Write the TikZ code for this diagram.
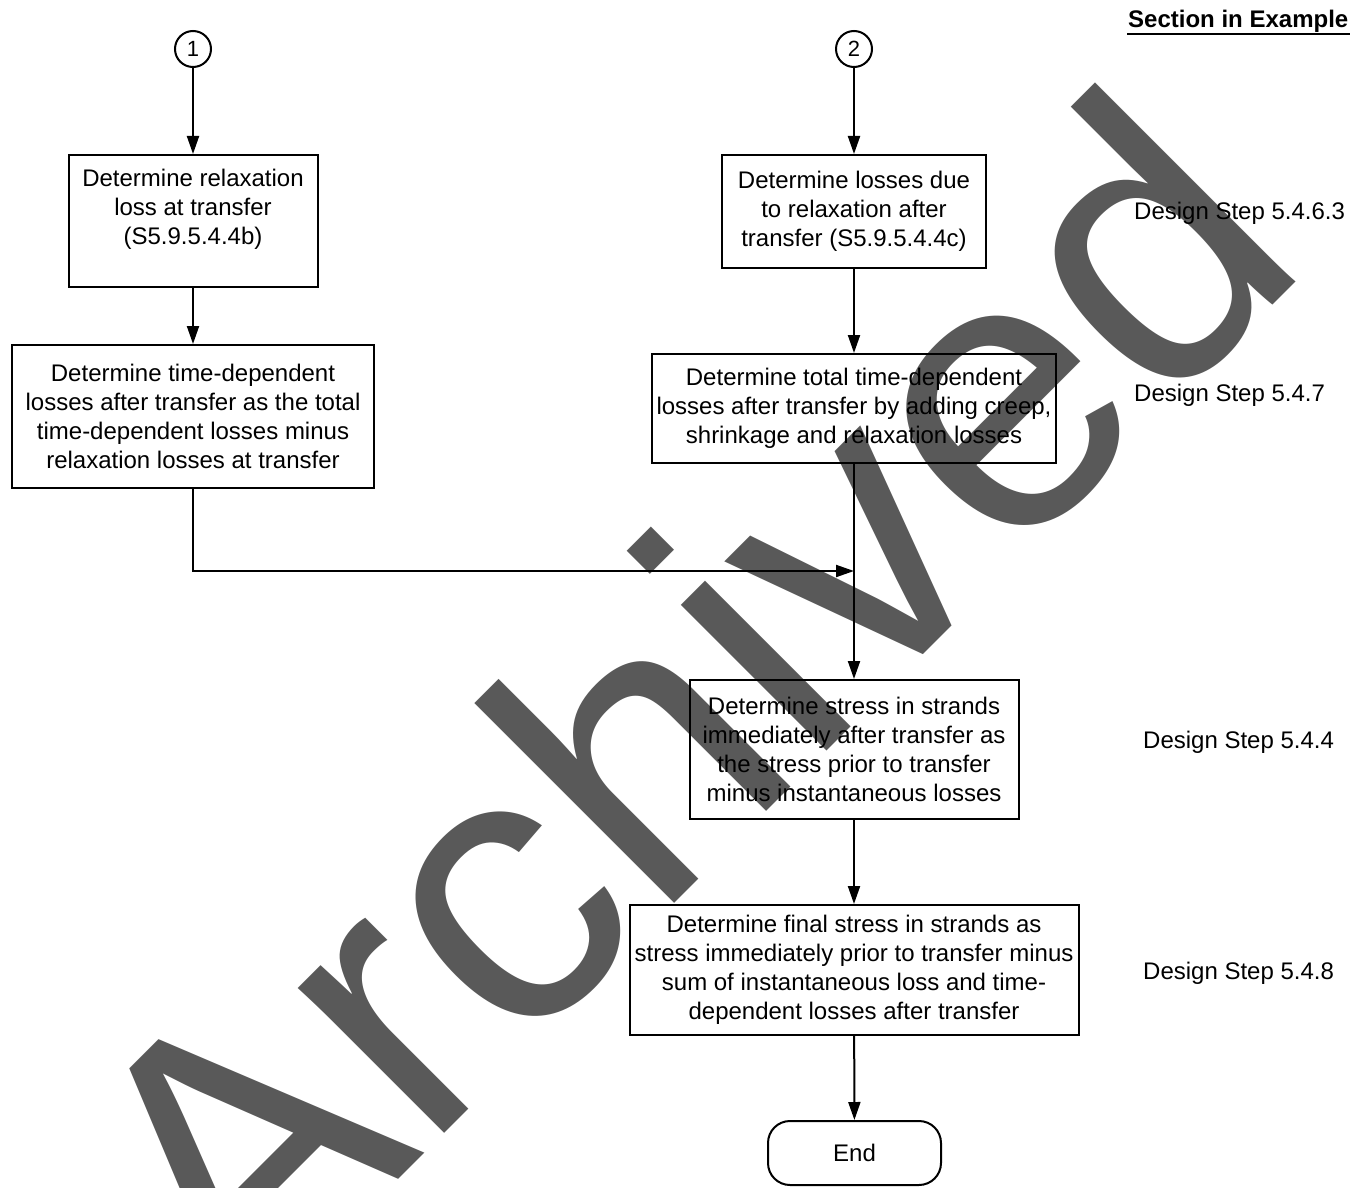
\documentclass[tikz,border=0pt]{standalone}
\usepackage{fontspec}
\setmainfont{Liberation Sans}
\usetikzlibrary{arrows.meta}
\definecolor{wmgray}{HTML}{595959}
\newcommand{\flowfont}{\fontsize{24}{29}\selectfont}
\begin{document}
\begin{tikzpicture}[x=1pt,y=-1pt,
  flowbox/.style={draw, line width=2pt, inner sep=0pt, align=center, font=\flowfont},
  link/.style={line width=2pt, -{Triangle[length=18pt,width=12pt]}},
  connector/.style={draw, circle, line width=2pt, minimum size=36pt, inner sep=0pt,
    font=\fontsize{22}{22}\selectfont},
  terminal/.style={draw, rounded corners=22pt, line width=2pt, minimum width=173pt,
    minimum height=64pt, inner sep=0pt, font=\flowfont},
  steplabel/.style={anchor=base west, inner sep=0pt, font=\flowfont}]

\useasboundingbox (0,0) rectangle (1361,1188);

% background stamp
\begin{scope}
  \clip (0,0) rectangle (1361,1188);
  \node[rotate=45, anchor=base, inner sep=0pt, text=wmgray,
        font=\fontsize{390}{390}\selectfont] (stamp) at (778,800) {Archived};
\end{scope}

% header
\node[steplabel, font=\flowfont\bfseries] (sec) at (1128,28) {Section in Example};
\draw[line width=2pt] ([xshift=-1pt,yshift=-6pt]sec.base west) -- ([xshift=2pt,yshift=-6pt]sec.base east);

% left column
\node[connector] (c1) at (193,49) {1};
\node[flowbox, minimum width=249pt, minimum height=132pt] (b1) at (193,221)
  {Determine relaxation\\loss at transfer\\(S5.9.5.4.4b)\\\mbox{}};
\node[flowbox, minimum width=362pt, minimum height=143pt] (b2) at (193,416.5)
  {Determine time-dependent\\losses after transfer as the total\\time-dependent losses minus\\relaxation losses at transfer};

% right column
\node[connector] (c2) at (854,49) {2};
\node[flowbox, minimum width=264pt, minimum height=113pt] (b3) at (854,211.5)
  {Determine losses due\\to relaxation after\\transfer (S5.9.5.4.4c)};
\node[flowbox, minimum width=404pt, minimum height=109pt] (b4) at (854,408.5)
  {Determine total time-dependent\\losses after transfer by adding creep,\\shrinkage and relaxation losses};
\node[flowbox, minimum width=329pt, minimum height=139pt] (b5) at (854,749.5)
  {Determine stress in strands\\immediately after transfer as\\the stress prior to transfer\\minus instantaneous losses};
\node[flowbox, minimum width=449pt, minimum height=130pt] (b6) at (854,970)
  {Determine final stress in strands as\\stress immediately prior to transfer minus\\sum of instantaneous loss and time-\\dependent losses after transfer};
\node[terminal] (finish) at (854.5,1153) {End};

% section references
\node[steplabel] (s1) at (1134,219.6) {Design Step 5.4.6.3};
\node[steplabel] (s2) at (1134,401.6) {Design Step 5.4.7};
\node[steplabel] (s3) at (1143,748.6) {Design Step 5.4.4};
\node[steplabel] (s4) at (1143,979.6) {Design Step 5.4.8};

% connectors
\coordinate (join) at (854,571);
\draw[link] (c1) -- (b1);
\draw[link] (b1) -- (b2);
\draw[link] (b2.south) |- (join);
\draw[link] (c2) -- (b3);
\draw[link] (b3) -- (b4);
\draw[link] (b4) -- (b5);
\draw[link] (b5) -- (b6);
\draw[link] (b6) -- (finish);
\end{tikzpicture}
\end{document}
